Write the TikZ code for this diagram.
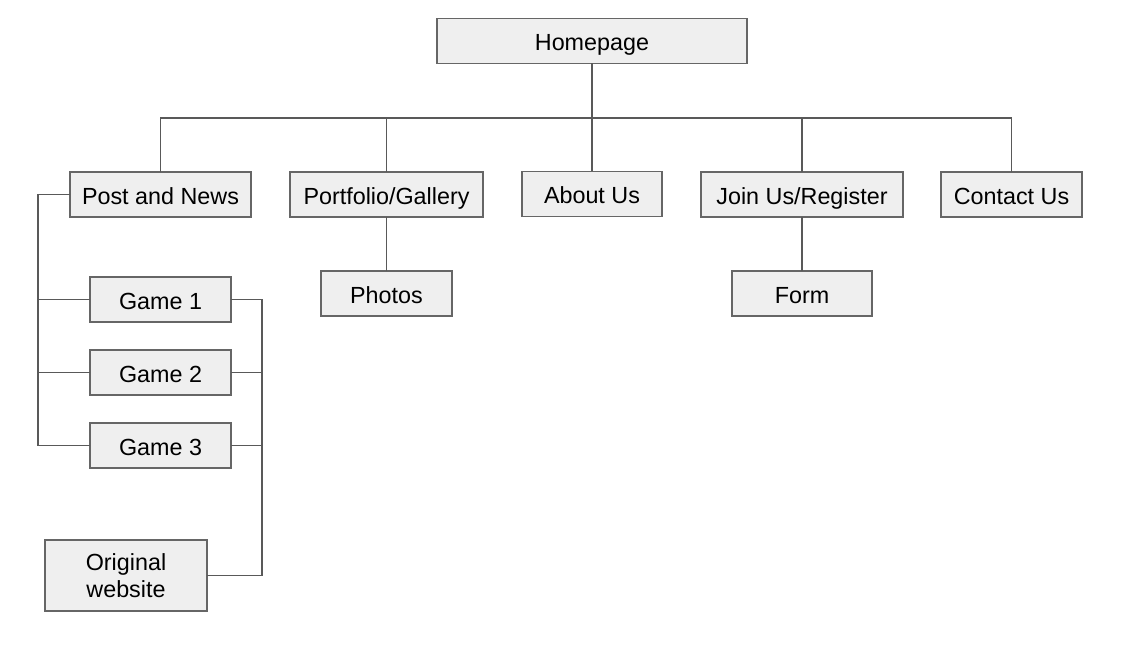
\documentclass[tikz,border=0pt]{standalone}
\usepackage{fontspec}
\setmainfont{Liberation Sans}
\usetikzlibrary{positioning}

\definecolor{boxfill}{HTML}{EFEFEF}
\definecolor{boxline}{HTML}{666666}
\definecolor{wire}{HTML}{595959}

\tikzset{
	pagebox/.style={draw=boxline, fill=boxfill, line width=0.8pt, inner sep=0pt, outer sep=0pt,
		minimum height=33.75pt, minimum width=#1*0.75pt, align=center,
		text height=18pt, text depth=3.5pt,
		font=\fontsize{17.5}{20.5}\selectfont},
	pagebox/.default=140,
	wire/.style={draw=wire, line width=0.8pt},
}

\begin{document}
\begin{tikzpicture}[
		x=0.75pt, y=-0.75pt,
	]
		\useasboundingbox (0,0) rectangle (1122,648);
		\node [pagebox=310] (home) at (592,41) {Homepage};
		\node [pagebox=140, below=81pt of home] (about) {About Us};
		\node [pagebox=181] (post) at (160.5,194.5) {Post and News};
		\node [pagebox=193] (portfolio) at (386.5,194.5) {Portfolio/Gallery};
		\node [pagebox=202] (join) at (802,194.5) {Join Us/Register};
		\node [pagebox=141] (contact) at (1011.5,194.5) {Contact Us};
		\node [pagebox=131, below=40.5pt of portfolio] (photos) {Photos};
		\node [pagebox=140, below=40.5pt of join] (form) {Form};
		\node [pagebox=141] (game1) at (160.5,299.5) {Game 1};
		\node [pagebox=141, below=21pt of game1] (game2) {Game 2};
		\node [pagebox=141, below=21pt of game2] (game3) {Game 3};
		\node [pagebox=162, minimum height=53.25pt, text height=, text depth=] (orig) at (126,575.5) {Original\\website};
		\coordinate (bus) at (592,118);
		\coordinate (lrail) at (38,0);
		\coordinate (rrail) at (262,0);
		
		% homepage to the top level pages
		\draw [wire] (home.south) -- (about.north);
		\draw [wire] (post.north) |- (bus) -| (contact.north);
		\draw [wire] (portfolio.north) -- (portfolio.north |- bus);
		\draw [wire] (join.north) -- (join.north |- bus);
		\draw [wire] (portfolio.south) -- (photos.north);
		\draw [wire] (join.south) -- (form.north);
		
		% games
		\draw [wire] (post.west) -- (post.west -| lrail) |- (game3.west);
		\draw [wire] (game1.west) -- (game1.west -| lrail);
		\draw [wire] (game2.west) -- (game2.west -| lrail);
		\draw [wire] (game1.east) -- (game1.east -| rrail) |- (orig.east);
		\draw [wire] (game2.east) -- (game2.east -| rrail);
		\draw [wire] (game3.east) -- (game3.east -| rrail);
	\end{tikzpicture}
\end{document}
